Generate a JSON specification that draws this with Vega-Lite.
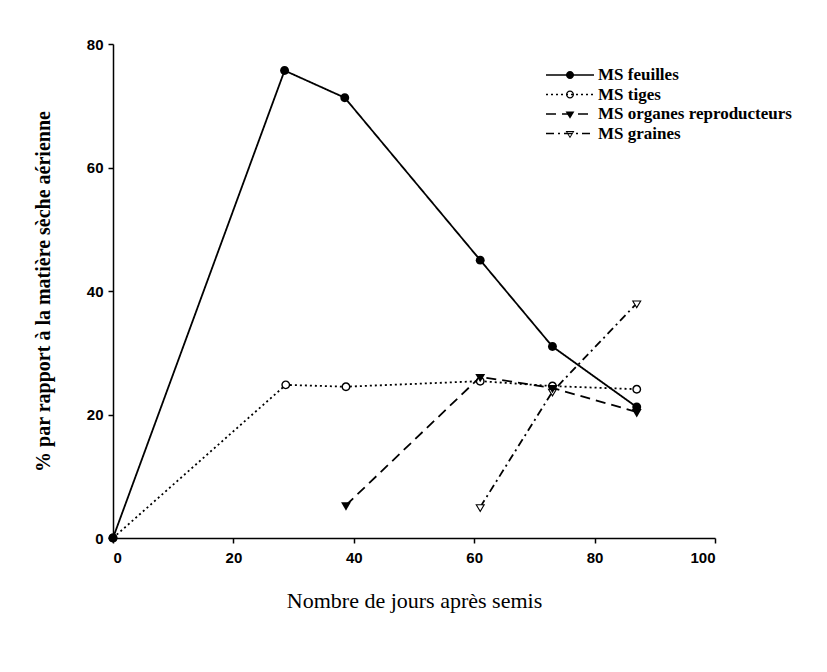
{
  "$schema": "https://vega.github.io/schema/vega-lite/v6.json",
  "width": 602,
  "height": 494,
  "autosize": {"type": "none"},
  "padding": {"left": 113, "top": 44, "right": 112, "bottom": 134},
  "background": "white",
  "config": {
    "view": {"stroke": null},
    "axis": {
      "grid": false,
      "domainColor": "black",
      "domainWidth": 1.5,
      "tickColor": "black",
      "tickWidth": 1.5,
      "tickSize": 5,
      "labelFont": "Liberation Sans",
      "labelFontWeight": "bold",
      "labelFontSize": 15,
      "labelColor": "black",
      "titleFont": "Liberation Serif",
      "titleFontWeight": "bold",
      "titleColor": "black"
    },
    "legend": {
      "labelFont": "Liberation Serif",
      "labelFontSize": 17,
      "labelFontWeight": "bold",
      "labelColor": "black",
      "labelLimit": 400,
      "padding": 0,
      "rowPadding": 1.5
    }
  },
  "data": {
    "values": [
      {"serie": "MS feuilles", "jours": 0, "pct": 0},
      {"serie": "MS feuilles", "jours": 28.5, "pct": 75.7},
      {"serie": "MS feuilles", "jours": 38.5, "pct": 71.3},
      {"serie": "MS feuilles", "jours": 61, "pct": 45},
      {"serie": "MS feuilles", "jours": 73, "pct": 31},
      {"serie": "MS feuilles", "jours": 87, "pct": 21.2},
      {"serie": "MS tiges", "jours": 0, "pct": 0},
      {"serie": "MS tiges", "jours": 28.7, "pct": 24.8},
      {"serie": "MS tiges", "jours": 38.7, "pct": 24.5},
      {"serie": "MS tiges", "jours": 61, "pct": 25.4},
      {"serie": "MS tiges", "jours": 73, "pct": 24.6},
      {"serie": "MS tiges", "jours": 87, "pct": 24.1},
      {"serie": "MS organes reproducteurs", "jours": 38.7, "pct": 5.3},
      {"serie": "MS organes reproducteurs", "jours": 61, "pct": 26.1},
      {"serie": "MS organes reproducteurs", "jours": 73, "pct": 24.3},
      {"serie": "MS organes reproducteurs", "jours": 87, "pct": 20.4},
      {"serie": "MS graines", "jours": 61, "pct": 5},
      {"serie": "MS graines", "jours": 73, "pct": 23.7},
      {"serie": "MS graines", "jours": 87, "pct": 38}
    ]
  },
  "encoding": {
    "x": {
      "field": "jours",
      "type": "quantitative",
      "scale": {"domain": [0, 100], "nice": false},
      "axis": {
        "values": [0, 20, 40, 60, 80, 100],
        "labelPadding": 7,
        "title": "Nombre de jours après semis",
        "titleFontSize": 22,
        "titleFontWeight": "normal",
        "titlePadding": 25
      }
    },
    "y": {
      "field": "pct",
      "type": "quantitative",
      "scale": {"domain": [0, 80], "nice": false},
      "axis": {
        "values": [0, 20, 40, 60, 80],
        "labelPadding": 5,
        "title": "% par rapport à la matière sèche aérienne",
        "titleFontSize": 20,
        "titlePadding": 33
      }
    }
  },
  "layer": [
    {
      "mark": {"type": "line", "color": "black", "strokeWidth": 1.8},
      "encoding": {
        "strokeDash": {
          "field": "serie",
          "type": "nominal",
          "scale": {
            "domain": ["MS feuilles", "MS tiges", "MS organes reproducteurs", "MS graines"],
            "range": [[1, 0], [2, 3], [10, 6], [8, 4, 2, 4]]
          },
          "legend": {
            "title": null,
            "orient": "none",
            "legendX": 428.5,
            "legendY": 22.5,
            "symbolType": "M-1,0H11",
            "symbolSize": 64,
            "symbolStrokeColor": "black",
            "symbolStrokeWidth": 1.5,
            "labelOffset": 39.5
          }
        }
      }
    },
    {
      "mark": {"type": "point", "filled": true, "color": "white", "shape": "circle", "size": 26, "opacity": 1}
    },
    {
      "mark": {"type": "point", "filled": true, "color": "black", "strokeWidth": 0, "size": 80, "opacity": 1},
      "encoding": {
        "shape": {
          "field": "serie",
          "type": "nominal",
          "sort": ["MS feuilles", "MS tiges", "MS organes reproducteurs", "MS graines"],
          "scale": {
            "range": [
              "M-1,0A1,1,0,1,1,1,0A1,1,0,1,1,-1,0Z",
              "M-1,0A1,1,0,1,1,1,0A1,1,0,1,1,-1,0ZM-0.68,0A0.68,0.68,0,1,0,0.68,0A0.68,0.68,0,1,0,-0.68,0Z",
              "M-1.1,-0.65L1.1,-0.65L0,1.2Z",
              "M-1.1,-0.65L1.1,-0.65L0,1.2ZM-0.68,-0.4L0,0.72L0.68,-0.4Z"
            ]
          },
          "legend": {
            "title": null,
            "orient": "none",
            "legendX": 448.5,
            "legendY": 22.5,
            "symbolSize": 64,
            "symbolFillColor": "black",
            "symbolStrokeWidth": 0,
            "labelOffset": 4,
            "labelExpr": "' '",
            "labelOpacity": 0
          }
        }
      }
    }
  ]
}
